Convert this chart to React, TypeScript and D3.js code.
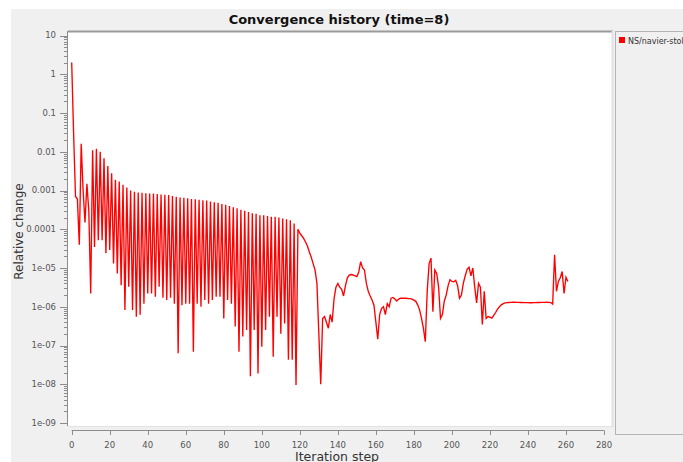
import React from 'react';
import * as d3 from 'd3';

const chartTitle = 'Convergence history (time=8)';
const seriesName = 'NS/navier-stokes';
const xAxisLabel = 'Iteration step';
const yAxisLabel = 'Relative change';
const xTickValues = [0, 20, 40, 60, 80, 100, 120, 140, 160, 180, 200, 220, 240, 260, 280];
const yTickValues = [1e-9, 1e-8, 1e-7, 1e-6, 1e-5, 1e-4, 1e-3, 1e-2, 1e-1, 1, 10];
const yTickLabels = ['1e-09', '1e-08', '1e-07', '1e-06', '1e-05', '0.0001', '0.001', '0.01', '0.1', '1', '10'];

// relative change per iteration step (index = iteration step)
const relativeChange = [
  2.0, 3e-2, 7e-4, 6e-4, 4e-5, 1.6e-2, 1e-3, 1.5e-4, 1.5e-3, 3e-4,
  2.2e-6, 1.1e-2, 3.5e-5, 1.2e-2, 5.2e-5, 1.0e-2, 5.2e-5, 6.8e-3, 2.4e-5, 4.3e-3,
  2.9e-5, 2.8e-3, 1.3e-5, 1.9e-3, 7.2e-6, 1.7e-3, 3.6e-6, 1.4e-3, 8.3e-7, 1.2e-3,
  3.3e-6, 1.0e-3, 8.3e-7, 9.3e-4, 5.5e-7, 8.9e-4, 6.2e-7, 8.7e-4, 1.2e-6, 8.5e-4,
  2.2e-6, 8.3e-4, 2.2e-6, 8.3e-4, 1.8e-6, 8.1e-4, 3.3e-6, 7.9e-4, 1.7e-6, 7.8e-4,
  1.5e-6, 7.6e-4, 1.7e-6, 7.2e-4, 1.2e-6, 6.9e-4, 6.3e-8, 6.6e-4, 1.1e-6, 6.5e-4,
  1.2e-6, 6.3e-4, 1.2e-6, 6.0e-4, 6.9e-8, 5.9e-4, 1.2e-6, 5.8e-4, 1.0e-6, 5.6e-4,
  1.5e-6, 5.5e-4, 1.2e-6, 5.2e-4, 1.5e-6, 5.0e-4, 1.8e-6, 4.8e-4, 1.8e-6, 4.5e-4,
  5.0e-7, 4.3e-4, 1.5e-6, 4.0e-4, 1.2e-6, 3.7e-4, 3.1e-7, 3.5e-4, 6.9e-8, 3.2e-4,
  1.7e-7, 3.0e-4, 2.5e-7, 2.8e-4, 1.6e-8, 2.6e-4, 2.5e-7, 2.5e-4, 1.9e-8, 2.3e-4,
  9.3e-8, 2.3e-4, 2.5e-7, 2.2e-4, 5.5e-7, 2.1e-4, 5.1e-8, 2.1e-4, 5.5e-7, 2.0e-4,
  2.0e-7, 1.9e-4, 3.7e-7, 1.8e-4, 4.3e-8, 1.7e-4, 4.3e-8, 1.4e-4, 9.5e-9, 1.0e-4,
  7.9e-5, 6.8e-5, 5.8e-5, 4.7e-5, 3.7e-5, 2.6e-5, 1.9e-5, 1.3e-5, 8.9e-6, 4.0e-6,
  2.0e-7, 1.0e-8, 5.0e-7, 5.6e-7, 4.0e-7, 2.8e-7, 6.3e-7, 4.0e-7, 1.6e-6, 3.2e-6,
  4.0e-6, 3.2e-6, 2.8e-6, 1.9e-6, 3.5e-6, 5.6e-6, 6.6e-6, 6.8e-6, 6.6e-6, 6.3e-6,
  6.0e-6, 7.9e-6, 1.45e-5, 1.0e-5, 8.9e-6, 4.0e-6, 2.5e-6, 1.9e-6, 1.5e-6, 1.1e-6,
  4.0e-7, 1.45e-7, 6.3e-7, 9.1e-7, 1.0e-6, 6.3e-7, 1.2e-6, 1.0e-6, 1.66e-6, 1.74e-6,
  1.58e-6, 1.41e-6, 1.58e-6, 1.66e-6, 1.66e-6, 1.66e-6, 1.66e-6, 1.62e-6, 1.62e-6, 1.58e-6,
  1.48e-6, 1.38e-6, 1.12e-6, 8.3e-7, 5.0e-7, 2.8e-7, 1.26e-7, 2.5e-6, 1.3e-5, 1.8e-5,
  7.4e-7, 8.9e-6, 7.2e-6, 3.2e-6, 5.0e-7, 6.3e-7, 1.41e-6, 2.0e-6, 3.5e-6, 5.0e-6,
  4.5e-6, 4.4e-6, 4.8e-6, 3.5e-6, 1.66e-6, 2.0e-6, 4.0e-6, 6.3e-6, 9.3e-6, 1.05e-5,
  6.3e-6, 1.0e-5, 3.2e-6, 1.26e-6, 4.0e-6, 3.2e-6, 3.5e-7, 2.5e-6, 5.0e-7, 5.6e-7,
  5.4e-7, 5.1e-7, 6.0e-7, 7.1e-7, 8.7e-7, 1.0e-6, 1.12e-6, 1.2e-6, 1.26e-6, 1.28e-6,
  1.29e-6, 1.3e-6, 1.31e-6, 1.31e-6, 1.3e-6, 1.3e-6, 1.29e-6, 1.29e-6, 1.28e-6, 1.28e-6,
  1.28e-6, 1.27e-6, 1.27e-6, 1.28e-6, 1.28e-6, 1.29e-6, 1.29e-6, 1.3e-6, 1.3e-6, 1.3e-6,
  1.31e-6, 1.3e-6, 1.28e-6, 1.17e-6, 2.2e-5, 2.5e-6, 4.5e-6, 5.6e-6, 8.1e-6, 2.2e-6,
  5.8e-6, 4.5e-6,
];

const FONT = '"DejaVu Sans", Verdana, sans-serif';

export default function App() {
  const W = 683;
  const H = 462;
  const plot = { left: 68, top: 31, right: 613, bottom: 427 };

  const x = d3.scaleLinear().domain([0, 280]).range([71.7, 604]);
  const y = d3.scaleLog().domain([1e-9, 10]).range([423, 35.5]);

  const lineGen = d3
    .line<number>()
    .x((_, i) => x(i))
    .y((d) => y(d));
  const path = lineGen(relativeChange) || '';

  const allTicks = y.ticks(20);
  const minorTicks = allTicks.filter(
    (t) => !yTickValues.some((m) => Math.abs(Math.log10(t) - Math.log10(m)) < 1e-6)
  );

  const axisColor = '#8c8c8c';
  const tickText = '#555555';

  return (
    <svg
      width={W}
      height={H}
      style={{ position: 'absolute', left: 0, top: 0, display: 'block' }}
      xmlns="http://www.w3.org/2000/svg"
    >
      <defs>
        <clipPath id="plotClip">
          <rect x={plot.left} y={plot.top} width={plot.right - plot.left} height={plot.bottom - plot.top} />
        </clipPath>
        <clipPath id="legendClip">
          <rect x={615} y={31} width={W - 615} height={404} />
        </clipPath>
      </defs>
      <rect x={0} y={0} width={W} height={H} fill="#ffffff" />
      <rect x={11} y={9} width={W - 11} height={H - 9} fill="#f0f0f0" />

      {/* title */}
      <text
        x={339}
        y={24}
        textAnchor="middle"
        fontFamily={FONT}
        fontWeight="bold"
        fontSize={13}
        fill="#111"
      >
        {chartTitle}
      </text>

      {/* plot area */}
      <rect
        x={plot.left}
        y={plot.top}
        width={plot.right - plot.left}
        height={plot.bottom - plot.top}
        fill="#ffffff"
      />
      <line x1={plot.left} y1={plot.top + 0.5} x2={plot.right} y2={plot.top + 0.5} stroke="#9a9a9a" strokeWidth={2} />
      <line x1={plot.right - 0.5} y1={plot.top} x2={plot.right - 0.5} y2={plot.bottom} stroke="#e2e2e2" strokeWidth={2} />
      <line x1={plot.left} y1={plot.bottom - 0.5} x2={plot.right} y2={plot.bottom - 0.5} stroke="#e2e2e2" strokeWidth={1} />

      {/* legend panel */}
      <rect x={615.5} y={31.5} width={90} height={403} fill="#f0f0f0" stroke="#b4b4b4" strokeWidth={1} />
      <g clipPath="url(#legendClip)">
        <rect x={619} y={37} width={6} height={6} fill="#ff0000" />
        <text x={628} y={43.5} fontFamily={FONT} fontSize={8} fill="#333">
          {seriesName}
        </text>
      </g>

      {/* y axis */}
      <line x1={67.5} y1={plot.top} x2={67.5} y2={426} stroke={axisColor} strokeWidth={1} />
      {minorTicks.map((t, i) => (
        <line key={'m' + i} x1={64} x2={67.5} y1={Math.round(y(t)) + 0.5} y2={Math.round(y(t)) + 0.5} stroke={axisColor} strokeWidth={1} />
      ))}
      {yTickValues.map((t, i) => (
        <g key={'y' + i}>
          <line x1={60} x2={67.5} y1={Math.round(y(t)) + 0.5} y2={Math.round(y(t)) + 0.5} stroke={axisColor} strokeWidth={1} />
          <text
            x={56}
            y={y(t)}
            dy="0.35em"
            textAnchor="end"
            fontFamily={FONT}
            fontSize={8.5}
            fill={tickText}
          >
            {yTickLabels[i]}
          </text>
        </g>
      ))}
      <text
        transform={`translate(22.5, 231.5) rotate(-90)`}
        textAnchor="middle"
        fontFamily={FONT}
        fontSize={12}
        fill="#333"
      >
        {yAxisLabel}
      </text>

      {/* x axis */}
      <line x1={x(0)} y1={430.5} x2={x(280)} y2={430.5} stroke={axisColor} strokeWidth={1} />
      {xTickValues.map((t) => (
        <g key={'x' + t}>
          <line x1={Math.round(x(t)) + 0.5} x2={Math.round(x(t)) + 0.5} y1={430.5} y2={435} stroke={axisColor} strokeWidth={1} />
          <text
            x={x(t)}
            y={447.5}
            textAnchor="middle"
            fontFamily={FONT}
            fontSize={8.5}
            fill={tickText}
          >
            {t}
          </text>
        </g>
      ))}
      <text x={337} y={461} textAnchor="middle" fontFamily={FONT} fontSize={12.5} fill="#333">
        {xAxisLabel}
      </text>

      {/* series */}
      <g clipPath="url(#plotClip)">
        <path d={path} fill="none" stroke="#ff0000" strokeWidth={1.35} strokeLinejoin="miter" strokeMiterlimit={4} />
      </g>
    </svg>
  );
}
